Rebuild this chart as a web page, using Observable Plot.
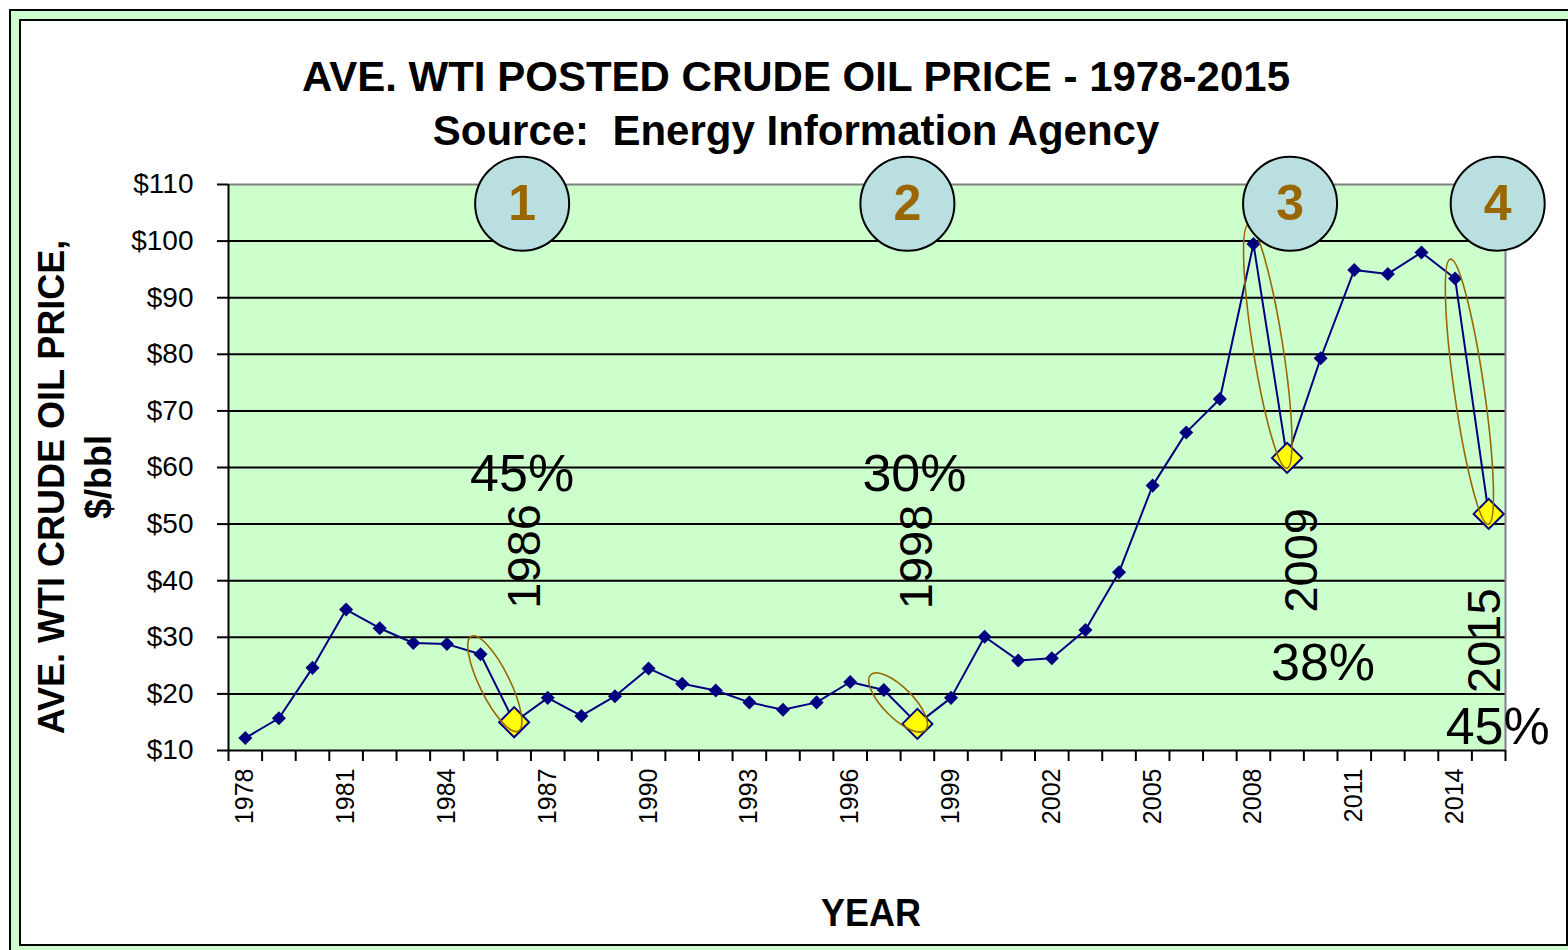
<!DOCTYPE html>
<html><head><meta charset="utf-8">
<script src="https://cdn.jsdelivr.net/npm/d3@7"></script>
<script src="https://cdn.jsdelivr.net/npm/@observablehq/plot@0.6"></script>
<style>
html,body{margin:0;padding:0;width:1568px;height:950px;overflow:hidden;background:#fff;font-family:"Liberation Sans",Arial,sans-serif;}
#outer{position:absolute;left:9px;top:9px;width:1600px;height:1000px;border:2px solid #000;background:#ccffcc;box-sizing:border-box;}
#inner{position:absolute;left:19px;top:19px;width:1549px;height:927px;border:2px solid #000;background:#fff;box-sizing:border-box;}
.t{position:absolute;white-space:pre;font-weight:bold;color:#000;}
#chart{position:absolute;left:0;top:0;}
</style></head><body>
<div id="outer"></div><div id="inner"></div>
<div class="t" style="left:796px;top:56px;font-size:42px;line-height:42px;transform:translateX(-50%)">AVE. WTI POSTED CRUDE OIL PRICE - 1978-2015</div>
<div class="t" style="left:796px;top:110px;font-size:42px;line-height:42px;transform:translateX(-50%)">Source:  Energy Information Agency</div>
<div class="t" style="left:51.5px;top:487px;font-size:36px;line-height:36px;transform:translate(-50%,-50%) rotate(-90deg)">AVE. WTI CRUDE OIL PRICE,</div>
<div class="t" style="left:99px;top:477px;font-size:36px;line-height:36px;transform:translate(-50%,-50%) rotate(-90deg)">$/bbl</div>
<div class="t" style="left:871px;top:895px;font-size:36px;line-height:36px;transform:translateX(-50%) scaleY(1.1)">YEAR</div>
<div id="chart"></div>
<script>
// ---- data ----
const years = [1978,1979,1980,1981,1982,1983,1984,1985,1986,1987,1988,1989,1990,1991,1992,1993,1994,1995,1996,1997,1998,1999,2000,2001,2002,2003,2004,2005,2006,2007,2008,2009,2010,2011,2012,2013,2014,2015];
const prices = [12.2,15.7,24.6,34.9,31.6,29.0,28.8,27.0,15.0,19.3,16.1,19.6,24.5,21.8,20.6,18.5,17.2,18.5,22.1,20.7,14.7,19.3,30.1,25.9,26.3,31.3,41.5,56.8,66.2,72.1,99.5,61.7,79.3,94.9,94.2,98.0,93.4,51.8];
const xTickLabels = [1978,1981,1984,1987,1990,1993,1996,1999,2002,2005,2008,2011,2014];
const yTicks = [10,20,30,40,50,60,70,80,90,100,110];
const dropYears = [1986,1998,2009,2015];
const dropPcts = ["45%","30%","38%","45%"];
const dropNums = ["1","2","3","4"];

// ---- layout / style (not data) ----
const FONT = "'Liberation Sans', Arial, sans-serif";
const NAVY = "#000080";
const BROWN = "#996600";
const circleY = 106.6, circleDx = [8,-10,3,9];
const pctLayout = [{dx:8,y:55.9},{dx:-3,y:55.9},{dx:36,y:22.4},{dx:9,y:11.1}];
const yearLayout = [{dx:26,y:44.3},{dx:15,y:44.2},{dx:30,y:43.6},{dx:11,y:29.4}];

const data = years.map((year, i) => ({year, price: prices[i]}));
const drops = dropYears.map((year, i) => ({year, price: prices[years.indexOf(year)], pct: dropPcts[i], num: dropNums[i]}));

const diamond = {
  draw(ctx, size) {
    const h = Math.sqrt(size / 2);
    ctx.moveTo(0, -h); ctx.lineTo(h, 0); ctx.lineTo(0, h); ctx.lineTo(-h, 0); ctx.closePath();
  }
};

function ellipses(index, scales) {
  const g = d3.create("svg:g").attr("fill", "none").attr("stroke", BROWN).attr("stroke-width", 1.6);
  for (const yr of dropYears) {
    const i = years.indexOf(yr);
    const x1 = scales.x(years[i-1]), y1 = scales.y(prices[i-1]);
    const x2 = scales.x(years[i]), y2 = scales.y(prices[i]);
    const cx = (x1 + x2) / 2 - 2, cy = (y1 + y2) / 2 - 4;
    const len = Math.hypot(x2 - x1, y2 - y1);
    const ang = Math.atan2(y2 - y1, x2 - x1) * 180 / Math.PI;
    g.append("ellipse").attr("cx", cx).attr("cy", cy)
      .attr("rx", len / 2 + 15).attr("ry", 15)
      .attr("transform", `rotate(${ang} ${cx} ${cy})`);
  }
  return g.node();
}

const marks = [
  Plot.frame({fill: "#ccffcc", stroke: null}),
  Plot.ruleY(yTicks.filter(v => v > 10 && v < 110), {stroke: "#000", strokeWidth: 2}),
  Plot.ruleY([110], {stroke: "#808080", strokeWidth: 2}),
  Plot.ruleX([2015.5], {stroke: "#808080", strokeWidth: 2}),
  Plot.ruleY([10], {stroke: "#000", strokeWidth: 2}),
  Plot.ruleX([1977.5], {stroke: "#000", strokeWidth: 2}),
  Plot.axisY({ticks: yTicks, tickFormat: d => "$" + d, tickSize: 11, tickPadding: 24, fontSize: 28, strokeWidth: 2, label: null}),
  Plot.axisX({ticks: years.map(y => y - 0.5).concat([years[years.length-1] + 0.5]), tickSize: 11, tickFormat: () => "", strokeWidth: 2, label: null}),
  Plot.axisX({ticks: xTickLabels, tickSize: 0, tickPadding: 18, tickRotate: -90, tickFormat: d => String(d), fontSize: 25, label: null}),
  Plot.line(data, {x: "year", y: "price", stroke: NAVY, strokeWidth: 2}),
  Plot.dot(data, {x: "year", y: "price", symbol: diamond, r: 5.6, fill: NAVY, stroke: null}),
  Plot.dot(drops, {x: "year", y: "price", symbol: diamond, r: 12, fill: "#ffff00", stroke: NAVY, strokeWidth: 2}),
  ellipses
];
drops.forEach((d, i) => {
  marks.push(
    Plot.dot([d], {x: "year", y: () => circleY, dx: circleDx[i], r: 47, fill: "#b9dfe0", stroke: "#000", strokeWidth: 2}),
    Plot.text([d], {x: "year", y: () => circleY, dx: circleDx[i], text: "num", fontSize: 50, fontWeight: "bold", fill: BROWN, lineAnchor: "middle"}),
    Plot.text([d], {x: "year", y: () => pctLayout[i].y, dx: pctLayout[i].dx, text: "pct", fontSize: 52, fill: "#000", lineAnchor: "bottom"}),
    Plot.text([d], {x: "year", y: () => yearLayout[i].y, dx: yearLayout[i].dx, text: d => String(d.year), rotate: -90, fontSize: 47, fill: "#000", lineAnchor: "bottom"})
  );
});

const chart = Plot.plot({
  width: 1568, height: 950,
  marginLeft: 228, marginRight: 63, marginTop: 184, marginBottom: 200,
  x: {domain: [1977.5, 2015.5]},
  y: {domain: [10, 110]},
  style: {background: "transparent", overflow: "visible", fontFamily: FONT, color: "#000"},
  marks
});
document.getElementById("chart").appendChild(chart);
</script>
</body></html>
